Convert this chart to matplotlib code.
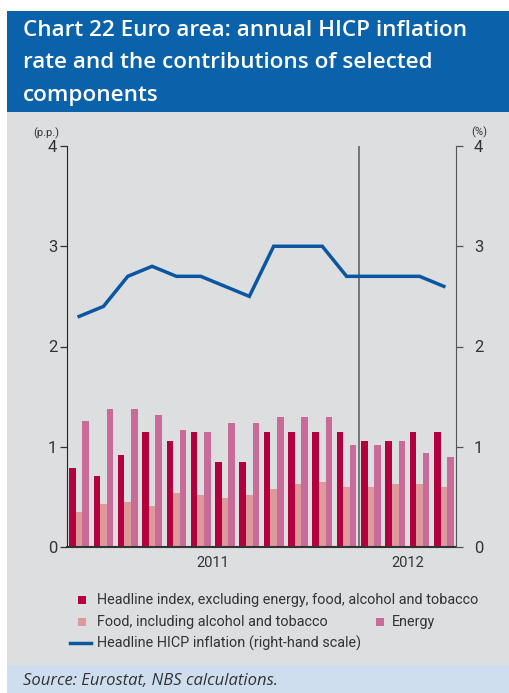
import numpy as np
import matplotlib.pyplot as plt
from matplotlib.patches import Rectangle
from matplotlib.lines import Line2D

# monthly data, Jan 2011 - Apr 2012
months = ["2011-01", "2011-02", "2011-03", "2011-04", "2011-05", "2011-06",
          "2011-07", "2011-08", "2011-09", "2011-10", "2011-11", "2011-12",
          "2012-01", "2012-02", "2012-03", "2012-04"]
core = [0.79, 0.71, 0.92, 1.15, 1.06, 1.15, 0.85, 0.85,
        1.15, 1.15, 1.15, 1.15, 1.06, 1.06, 1.15, 1.15]
food = [0.35, 0.43, 0.45, 0.41, 0.54, 0.52, 0.49, 0.52,
        0.58, 0.63, 0.65, 0.60, 0.60, 0.63, 0.63, 0.60]
energy = [1.26, 1.38, 1.38, 1.32, 1.17, 1.15, 1.24, 1.24,
          1.30, 1.30, 1.30, 1.02, 1.02, 1.06, 0.94, 0.90]
hicp = [2.3, 2.4, 2.7, 2.8, 2.7, 2.7, 2.6, 2.5,
        3.0, 3.0, 3.0, 2.7, 2.7, 2.7, 2.7, 2.6]
years = ["2011", "2012"]
yticks = [0, 1, 2, 3, 4]

C_CORE = "#b3003f"
C_FOOD = "#dc9a9b"
C_ENERGY = "#c96b99"
C_LINE = "#0a56a0"
C_BG = "#dddee0"
C_HEAD = "#0a62aa"
C_SRC = "#cfdeee"
TXT = "#333333"

W, H = 509, 693
fig = plt.figure(figsize=(W / 100, H / 100), dpi=100)
fig.patch.set_facecolor("white")
plt.rcParams["font.family"] = ["Roboto", "DejaVu Sans"]


def px(x0, y0, x1, y1):
    return [x0 / W, 1 - y1 / H, (x1 - x0) / W, (y1 - y0) / H]


# background panels
bg = fig.add_axes([0, 0, 1, 1])
bg.set_xlim(0, W)
bg.set_ylim(H, 0)
bg.axis("off")
bg.add_patch(Rectangle((7, 11), W - 7, 101, color=C_HEAD, lw=0))
bg.add_patch(Rectangle((7, 112), W - 7, 553, color=C_BG, lw=0))
bg.add_patch(Rectangle((7, 665), W - 7, 28, color=C_SRC, lw=0))

title_lines = ["Chart 22 Euro area: annual HICP inflation",
               "rate and the contributions of selected",
               "components"]
for i, line in enumerate(title_lines):
    bg.text(23, 30 + 33 * i, line, color="white", fontsize=16.2,
            fontweight="semibold", family=["Open Sans", "DejaVu Sans"],
            va="center", ha="left")

bg.text(23, 681, "Source: Eurostat, NBS calculations.", color=TXT,
        fontsize=12, style="italic", family=["Open Sans", "DejaVu Sans"],
        va="center", ha="left")

# main chart
ax = fig.add_axes(px(67, 146, 456, 547))
ax.set_facecolor("none")
x = np.arange(len(months))
bw = 0.27
ax.bar(x - bw, core, bw, color=C_CORE, lw=0)
ax.bar(x, food, bw, color=C_FOOD, lw=0)
ax.bar(x + bw, energy, bw, color=C_ENERGY, lw=0)
ax.axvline(11.5, color="#6e6e6e", lw=1.3, ymax=1.0)
ax.set_xlim(-0.5, 15.5)
ax.set_ylim(0, 4)
ax.set_yticks(yticks)
ax.set_xticks([])
for s in ["top", "right"]:
    ax.spines[s].set_visible(False)
ax.spines["left"].set_color("#222222")
ax.spines["bottom"].set_color("#333333")
ax.spines["bottom"].set_linewidth(1.5)
ax.tick_params(axis="y", direction="out", length=5, width=0.9, color="#333333",
               labelsize=12, labelcolor=TXT, pad=2)
ax.text(5.5, -0.16, years[0], ha="center", va="center", fontsize=10.5, color=TXT)
ax.text(13.5, -0.16, years[1], ha="center", va="center", fontsize=10.5, color=TXT)
ax.text(-0.02, 4.13, "(p.p.)", transform=ax.get_yaxis_transform(),
        ha="right", va="center", fontsize=8, color=TXT)

ax2 = ax.twinx()
ax2.plot(x, hicp, color=C_LINE, lw=2.5, solid_joinstyle="miter")
ax2.set_ylim(0, 4)
ax2.set_yticks(yticks)
for s in ["top", "left", "bottom"]:
    ax2.spines[s].set_visible(False)
ax2.spines["right"].set_color("#555555")
ax2.tick_params(axis="y", direction="out", length=5, width=0.9, color="#555555",
                labelsize=12, labelcolor=TXT, pad=8)
ax2.text(1.06, 4.14, "(%)", transform=ax2.get_yaxis_transform(),
         ha="center", va="center", fontsize=8, color=TXT)

# legend
leg_font = dict(fontsize=10.4, color=TXT, va="center", ha="left")
bg.add_patch(Rectangle((78, 596), 8, 8, color=C_CORE, lw=0))
bg.text(97, 600, "Headline index, excluding energy, food, alcohol and tobacco", **leg_font)
bg.add_patch(Rectangle((78, 618), 8, 8, color=C_FOOD, lw=0))
bg.text(97, 622, "Food, including alcohol and tobacco", **leg_font)
bg.add_patch(Rectangle((376, 618), 8, 8, color=C_ENERGY, lw=0))
bg.text(392, 622, "Energy", **leg_font)
bg.add_line(Line2D([70, 91], [643, 643], color=C_LINE, lw=2.5))
bg.text(97, 643, "Headline HICP inflation (right-hand scale)", **leg_font)

fig.savefig("out.png", dpi=100, facecolor=fig.get_facecolor())
